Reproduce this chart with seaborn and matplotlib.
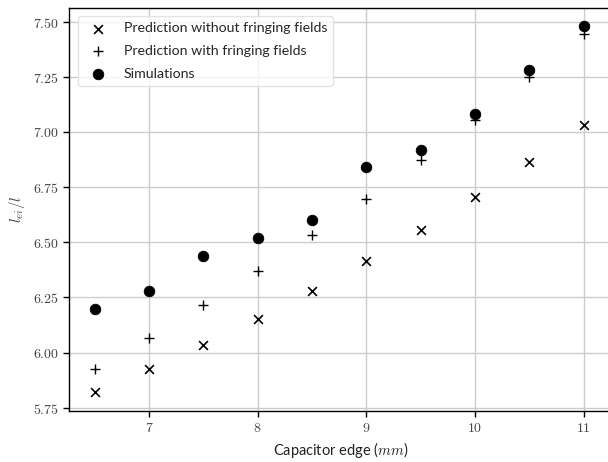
import matplotlib
matplotlib.use("Agg")
import matplotlib.pyplot as plt
from matplotlib.ticker import FuncFormatter
import seaborn as sns
import pandas as pd

edge_mm = [6.5, 7.0, 7.5, 8.0, 8.5, 9.0, 9.5, 10.0, 10.5, 11.0]
pred_no_fringe = [5.82, 5.925, 6.033, 6.153, 6.279, 6.415, 6.557, 6.707, 6.864, 7.031]
pred_fringe = [5.925, 6.068, 6.216, 6.37, 6.535, 6.698, 6.873, 7.055, 7.247, 7.442]
simulations = [6.20, 6.279, 6.44, 6.52, 6.60, 6.84, 6.918, 7.081, 7.279, 7.481]

sns.set_theme(style="whitegrid")
plt.rcParams["font.family"] = ["Lato", "DejaVu Sans"]
plt.rcParams["mathtext.fontset"] = "cm"

fig = plt.figure(figsize=(6.08, 4.62), dpi=100)
ax = fig.add_axes([0.1135, 0.111, 0.895, 0.8725])

df = pd.DataFrame({"edge": edge_mm, "no": pred_no_fringe,
                   "fr": pred_fringe, "sim": simulations})

sns.scatterplot(data=df, x="edge", y="no", marker="x", color="black", s=40,
                linewidth=1.2, ax=ax, label="Prediction without fringing fields")
sns.scatterplot(data=df, x="edge", y="fr", marker="+", color="black", s=45,
                linewidth=1.0, ax=ax, label="Prediction with fringing fields")
sns.scatterplot(data=df, x="edge", y="sim", marker="o", color="black", s=58,
                edgecolor="black", ax=ax, label="Simulations")

ax.set_xlim(6.265, 11.27)
ax.set_ylim(5.737, 7.563)
ax.set_xticks([7, 8, 9, 10, 11])
ax.set_yticks([5.75, 6.0, 6.25, 6.5, 6.75, 7.0, 7.25, 7.5])
ax.xaxis.set_major_formatter(FuncFormatter(lambda v, p: f"${v:.0f}$"))
ax.yaxis.set_major_formatter(FuncFormatter(lambda v, p: f"${v:.2f}$"))

ax.grid(True, color="#cccccc", linewidth=1.0)
for sp in ax.spines.values():
    sp.set_color("black")
    sp.set_linewidth(1.0)
ax.tick_params(axis="both", which="major", direction="out", length=4, width=1,
               color="black", labelsize=10, labelcolor="#444444", bottom=True, left=True)

ax.set_xlabel("Capacitor edge ($mm$)", fontsize=10.5, color="#222222")
ax.set_ylabel("$l_{ei}/l$", fontsize=11, color="#444444")

leg = ax.legend(loc="upper left", fontsize=10.2, frameon=True, handletextpad=0.8,
                borderpad=0.45, labelspacing=0.75, borderaxespad=0.6)
leg.get_frame().set_edgecolor("#dddddd")
leg.get_frame().set_alpha(0.8)

fig.savefig("out.png", dpi=100)
